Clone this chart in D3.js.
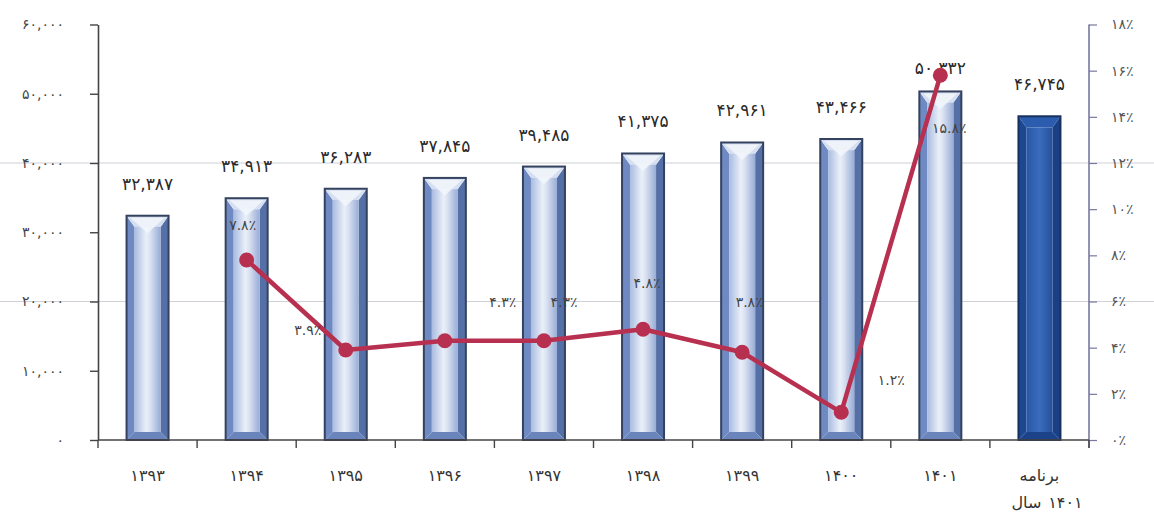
<!DOCTYPE html>
<html><head><meta charset="utf-8">
<script src="https://cdn.jsdelivr.net/npm/d3@7/dist/d3.min.js"></script>
<style>
html,body{margin:0;padding:0;background:#fff;}
svg{display:block;font-family:"DejaVu Sans",sans-serif;}
</style></head>
<body><svg id="c" width="1154" height="524"></svg>
<script>
// ---- data ----
const categories = ["1393","1394","1395","1396","1397","1398","1399","1400","1401","plan"];
// each label line is a list of words shown left-to-right
const categoryLabels = [[["۱۳۹۳"]],[["۱۳۹۴"]],[["۱۳۹۵"]],[["۱۳۹۶"]],[["۱۳۹۷"]],[["۱۳۹۸"]],[["۱۳۹۹"]],[["۱۴۰۰"]],[["۱۴۰۱"]],[["برنامه"],["سال","۱۴۰۱"]]];
const barValues = [32387, 34913, 36283, 37845, 39485, 41375, 42961, 43466, 50332, 46745];
const growthPct = [null, 7.8, 3.9, 4.3, 4.3, 4.8, 3.8, 1.2, 15.8, null];
const leftTicks = [0, 10000, 20000, 30000, 40000, 50000, 60000];
const rightTicks = [0, 2, 4, 6, 8, 10, 12, 14, 16, 18];
const planCategory = "plan";
// layout-only: label nudges for growth labels (dx, dy)
const growthLabelNudge = [null,[-4,-35],[-38,-20],[58,-39],[20,-39],[4,-46],[7,-50],[50,-32],[9,53],null];

const fa = s => String(s).replace(/[0-9]/g, d => "۰۱۲۳۴۵۶۷۸۹"[+d]);

const svg = d3.select("#c");
const W = 1154, H = 524;
const x = d3.scaleBand().domain(categories).range([98, 1089]);
const yL = d3.scaleLinear().domain([0, 60000]).range([440, 24.5]);
const yR = d3.scaleLinear().domain([0, 18]).range([440, 24.5]);

// defs
const defs = svg.append("defs");
function grad(id, stops){
  const g = defs.append("linearGradient").attr("id", id).attr("x1","0").attr("x2","1").attr("y1","0").attr("y2","0");
  stops.forEach(([o,c]) => g.append("stop").attr("offset", o).attr("stop-color", c));
}
grad("face", [["0","#a9bbe0"],["0.45","#eaf0f9"],["0.6","#dae2f2"],["1","#98acd6"]]);
grad("faceDark", [["0","#2858a6"],["0.5","#3a6cbc"],["1","#24509c"]]);

// gridlines (full width, as in scan)
svg.append("g").selectAll("line").data([20000, 40000]).join("line")
  .attr("x1", 0).attr("x2", W).attr("y1", d => yL(d)).attr("y2", d => yL(d))
  .attr("stroke", "#cfd0d8").attr("stroke-width", 1);

// bars
const bw = 42, bev = 8;
const bars = svg.append("g");
categories.forEach((c, i) => {
  const v = barValues[i];
  const x0 = x(c) + (x.bandwidth() - bw) / 2, x1 = x0 + bw;
  const y0 = yL(v), yb = yL(0);
  const dark = c === planCategory;
  const g = bars.append("g");
  const pts = a => a.map(p => p.join(",")).join(" ");
  g.append("polygon").attr("points", pts([[x0,y0],[x0+bev,y0+bev*1.4],[x0+bev,yb-bev],[x0,yb]]))
    .attr("fill", dark ? "#1d4791" : "#6f8ac2");
  g.append("polygon").attr("points", pts([[x1,y0],[x1-bev,y0+bev*1.4],[x1-bev,yb-bev],[x1,yb]]))
    .attr("fill", dark ? "#1a3f84" : "#5570a6");
  g.append("polygon").attr("points", pts([[x0,y0],[x1,y0],[x1-bev,y0+bev*1.4],[x0+bev,y0+bev*1.4]]))
    .attr("fill", dark ? "#2c5cad" : "#d6dff1");
  g.append("polygon").attr("points", pts([[x0,yb],[x1,yb],[x1-bev,yb-bev],[x0+bev,yb-bev]]))
    .attr("fill", dark ? "#1c438a" : "#6a85bc");
  g.append("rect").attr("x", x0+bev).attr("y", y0+bev*1.4).attr("width", bw-2*bev).attr("height", Math.max(0, yb-bev-(y0+bev*1.4)))
    .attr("fill", dark ? "url(#faceDark)" : "url(#face)");
  if (!dark) g.append("polygon").attr("points", pts([[x0+4,y0+2],[x1-4,y0+2],[(x0+x1)/2,y0+bev*2.2]]))
    .attr("fill", "#f4f7fc").attr("opacity", 0.8);
  g.append("rect").attr("x", x0).attr("y", y0).attr("width", bw).attr("height", yb - y0)
    .attr("fill", "none").attr("stroke", dark ? "#16305f" : "#34425f").attr("stroke-width", 2);
});

// bar value labels
svg.append("g").selectAll("text").data(categories).join("text")
  .attr("x", c => x(c) + x.bandwidth()/2)
  .attr("y", (c, i) => Math.max(yL(barValues[i]) - 32, 68))
  .attr("dy", "0.35em").attr("text-anchor", "middle")
  .attr("font-size", 17).attr("fill", "#2a2a2a")
  .text((c, i) => fa(d3.format(",")(barValues[i])));

// left axis
const ax = svg.append("g").attr("transform", "translate(98,0)")
  .call(d3.axisLeft(yL).tickValues(leftTicks).tickSize(8).tickSizeOuter(0).tickPadding(26)
    .tickFormat(d => fa(d3.format(",")(d))));
ax.select(".domain").attr("stroke", "#444").attr("stroke-width", 1.6);
ax.selectAll(".tick line").attr("stroke", "#444").attr("stroke-width", 1.4);
ax.selectAll(".tick text").attr("font-size", 14).attr("fill", "#444").attr("font-family", "DejaVu Sans");

// right axis
const ar = svg.append("g").attr("transform", "translate(1089,0)")
  .call(d3.axisRight(yR).tickValues(rightTicks).tickSize(8).tickSizeOuter(0).tickPadding(14)
    .tickFormat(d => fa(d) + "٪"));
ar.select(".domain").attr("stroke", "#77779f").attr("stroke-width", 1.6);
ar.selectAll(".tick line").attr("stroke", "#77779f").attr("stroke-width", 1.2);
ar.selectAll(".tick text").attr("font-size", 14).attr("fill", "#555").attr("font-family", "DejaVu Sans");
ar.select(".domain").attr("d", `M0,${yR(18)}V${yR(0)+8}`);

// x axis
const xg = svg.append("g");
xg.append("line").attr("x1", 98).attr("x2", 1089).attr("y1", yL(0)).attr("y2", yL(0))
  .attr("stroke", "#444").attr("stroke-width", 1.6);
const bounds = categories.map(c => x(c)).concat([x.range()[1]]);
xg.selectAll("line.t").data(bounds).join("line").attr("class","t")
  .attr("x1", d => d).attr("x2", d => d).attr("y1", yL(0)).attr("y2", yL(0) + 8)
  .attr("stroke", "#444").attr("stroke-width", 1.4);
categories.forEach((c, i) => {
  const cx = x(c) + x.bandwidth()/2;
  categoryLabels[i].forEach((words, j) => {
    const y = 475 + j * 27;
    if (words.length === 1) {
      xg.append("text").attr("x", cx).attr("y", y).attr("dy", "0.35em").attr("text-anchor", "middle")
        .attr("font-size", 16).attr("fill", "#333").text(words[0]);
    } else {
      // left word, then right word, each centred on its own spot
      xg.append("text").attr("x", cx - 13).attr("y", y).attr("dy", "0.35em").attr("text-anchor", "middle")
        .attr("font-size", 16).attr("fill", "#333").text(words[0]);
      xg.append("text").attr("x", cx + 26).attr("y", y).attr("dy", "0.35em").attr("text-anchor", "middle")
        .attr("font-size", 16).attr("fill", "#333").text(words[1]);
    }
  });
});

// growth line
const pts = categories.map((c, i) => ({c, v: growthPct[i], i})).filter(d => d.v != null);
svg.append("path").datum(pts)
  .attr("d", d3.line().x(d => x(d.c) + x.bandwidth()/2).y(d => yR(d.v)))
  .attr("fill", "none").attr("stroke", "#b8304f").attr("stroke-width", 4.5).attr("stroke-linejoin", "round");
svg.append("g").selectAll("circle").data(pts).join("circle")
  .attr("cx", d => x(d.c) + x.bandwidth()/2).attr("cy", d => yR(d.v)).attr("r", 7.5)
  .attr("fill", "#b8304f");

// growth labels
svg.append("g").selectAll("text").data(pts).join("text")
  .attr("x", d => x(d.c) + x.bandwidth()/2 + growthLabelNudge[d.i][0])
  .attr("y", d => yR(d.v) + growthLabelNudge[d.i][1])
  .attr("dy", "0.35em").attr("text-anchor", "middle")
  .attr("font-size", 14).attr("fill", "#444")
  .text(d => fa(d.v.toFixed(1)) + "٪");
</script></body></html>
